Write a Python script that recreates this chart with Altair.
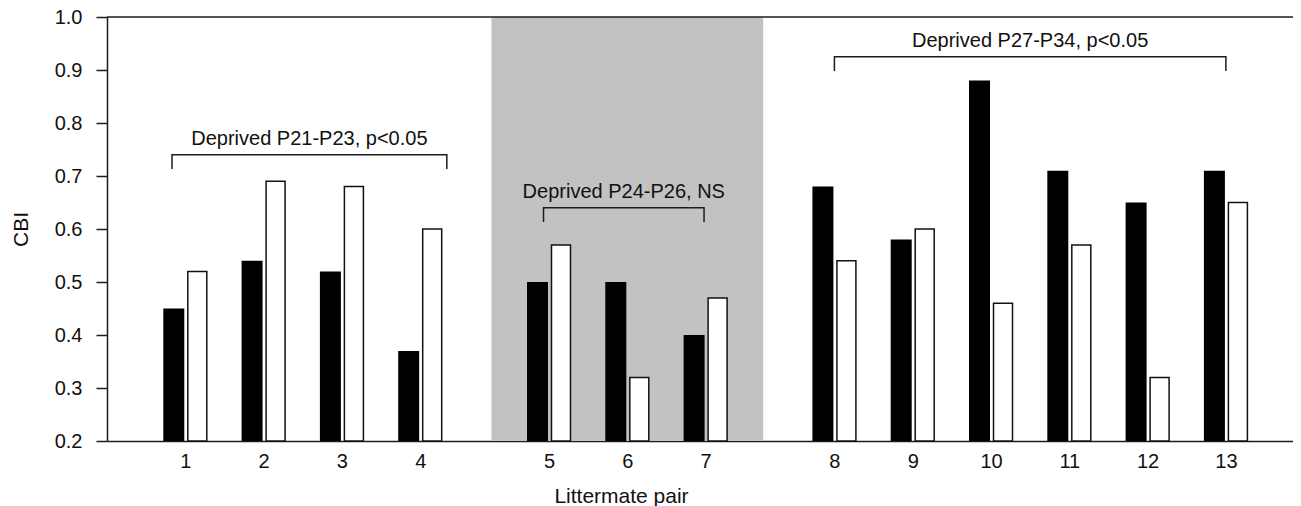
import altair as alt
import pandas as pd

# ---- data ----
pairs = [1, 2, 3, 4, 5, 6, 7, 8, 9, 10, 11, 12, 13]
groups = [0, 0, 0, 0, 1, 1, 1, 2, 2, 2, 2, 2, 2]
deprived = [0.45, 0.54, 0.52, 0.37, 0.50, 0.50, 0.40, 0.68, 0.58, 0.88, 0.71, 0.65, 0.71]
control = [0.52, 0.69, 0.68, 0.60, 0.57, 0.32, 0.47, 0.54, 0.60, 0.46, 0.57, 0.32, 0.65]
group_labels = ["Deprived P21-P23, p<0.05", "Deprived P24-P26, NS", "Deprived P27-P34, p<0.05"]
group_levels = [0.74, 0.64, 0.925]
y_ticks = [0.2, 0.3, 0.4, 0.5, 0.6, 0.7, 0.8, 0.9, 1.0]
shaded_group = 1

# ---- layout helpers ----
GAP = 0.645
FONT = "Liberation Sans"
INK = "#1c1c1c"
PX_PER_UNIT = 78.3
WIDTH = 1186
pos = [p + GAP * g for p, g in zip(pairs, groups)]

x_scale = alt.Scale(domain=[0, WIDTH / PX_PER_UNIT], nice=False, zero=False, padding=0)
y_scale = alt.Scale(domain=[0.2, 1.0], nice=False, zero=False, padding=0)

label_expr = "''"
for p, v in reversed(list(zip(pairs, pos))):
    label_expr = f"abs(datum.value - {v:.4f}) < 0.01 ? '{p}' : ({label_expr})"

x_axis = alt.Axis(
    values=pos, labelExpr=label_expr, ticks=False, grid=False,
    domainColor=INK, domainWidth=1.5, labelPadding=10, labelFont=FONT,
    labelFontSize=20, labelColor="#111", labelOverlap=False, labelFlush=False,
    title="Littermate pair", titleFont=FONT, titleFontSize=21,
    titleFontWeight="normal", titleColor="#111", titleX=514, titleY=61,
    titleBaseline="alphabetic", titleAlign="center",
)
y_axis = alt.Axis(
    values=y_ticks, format=".1f", grid=False, tickSize=11, tickWidth=1.5,
    tickColor=INK, domainColor=INK, domainWidth=1.5, labelPadding=14,
    labelFont=FONT, labelFontSize=20, labelColor="#111",
    title="CBI", titleFont=FONT, titleFontSize=21, titleFontWeight="normal",
    titleColor="#111", titleAngle=270, titleX=-80, titleY=212,
    titleBaseline="alphabetic", titleAlign="center",
)

def X(field):
    return alt.X(field, type="quantitative", scale=x_scale, axis=x_axis)

def Y(field):
    return alt.Y(field, type="quantitative", scale=y_scale, axis=y_axis)

# shaded band for the middle group
gpos = [v for v, g in zip(pos, groups) if g == shaded_group]
band_df = pd.DataFrame({"x": [min(gpos) - 0.735], "x1": [max(gpos) + 0.735],
                        "y": [1.0], "y1": [0.2]})
band = alt.Chart(band_df).mark_rect(color="#c2c2c2").encode(
    x=X("x"), x2="x1", y=Y("y"), y2="y1")

bars_df = pd.DataFrame({"x": pos, "deprived": deprived, "control": control})
black = alt.Chart(bars_df).mark_bar(width=21, xOffset=-11.5, color="#000").encode(
    x=X("x"), y=Y("deprived"), y2=alt.datum(0.2))
white = alt.Chart(bars_df).mark_bar(
    width=19, xOffset=12, fill="#ffffff", stroke="#111", strokeWidth=1.5
).encode(x=X("x"), y=Y("control"), y2=alt.datum(0.2))

top_df = pd.DataFrame({"y": [1.0]})
top_line = alt.Chart(top_df).mark_rule(color=INK, strokeWidth=1.5).encode(y=Y("y"))

# brackets
start_off = [-0.17, -0.07, 0.0]
end_off = [0.34, -0.02, 0.0]
TICK = 0.027
rows, text_rows = [], []
for g, (lab, lev) in enumerate(zip(group_labels, group_levels)):
    gp = [v for v, gg in zip(pos, groups) if gg == g]
    xl, xr = min(gp) + start_off[g], max(gp) + end_off[g]
    for o, (xx, yy) in enumerate([(xl, lev - TICK), (xl, lev), (xr, lev), (xr, lev - TICK)]):
        rows.append({"g": g, "o": o, "x": xx, "y": yy})
    text_rows.append({"x": (xl + xr) / 2, "y": lev, "label": lab})
br_df = pd.DataFrame(rows)
brackets = alt.Chart(br_df).mark_line(color=INK, strokeWidth=1.5).encode(
    x=X("x"), y=Y("y"), detail="g:N", order="o:Q")
texts = alt.Chart(pd.DataFrame(text_rows)).mark_text(
    font=FONT, fontSize=20, baseline="alphabetic", align="center", dy=-10, color="#111"
).encode(x=X("x"), y=Y("y"), text="label:N")

chart = alt.layer(band, black, white, top_line, brackets, texts).properties(
    width=WIDTH, height=424,
    autosize=alt.AutoSizeParams(type="none"),
    padding={"left": 99, "top": 9, "right": 0, "bottom": 65},
).configure_view(stroke=None)

chart.save("out.html", embed_options={"renderer": "svg", "actions": False})
